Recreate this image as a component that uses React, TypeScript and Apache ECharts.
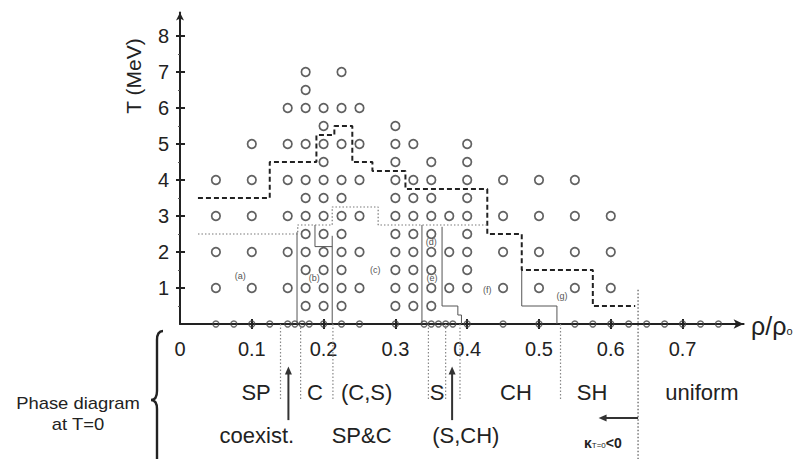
import React, { useEffect, useRef } from "react";
import * as echarts from "echarts";

// ---------- data ----------
const circleColumns = [0.05, 0.1, 0.15, 0.175, 0.2, 0.225, 0.25, 0.3, 0.325, 0.35, 0.375, 0.4, 0.45, 0.5, 0.55, 0.6];
const circleTemps = [
  [1, 2, 3, 4],
  [1, 2, 3, 4, 5],
  [1, 2, 3, 4, 5, 6],
  [0.5, 1, 1.5, 2, 2.5, 3, 3.5, 4, 5, 6, 6.5, 7],
  [0.5, 1, 1.5, 2, 2.5, 3, 3.5, 4, 4.5, 5, 5.5, 6],
  [0.5, 1, 1.5, 2, 2.5, 3, 3.5, 4, 5, 6, 7],
  [1, 2, 3, 4, 5, 6],
  [0.5, 1, 1.5, 2, 2.5, 3, 3.5, 4, 4.5, 5, 5.5],
  [0.5, 1, 1.5, 2, 2.5, 3, 3.5, 4, 5],
  [0.5, 1, 1.5, 2, 2.5, 3, 3.5, 4, 4.5],
  [1, 2, 3],
  [1, 1.5, 2, 2.5, 3, 3.5, 4, 4.5, 5],
  [1, 2, 3, 4],
  [1, 2, 3, 4],
  [1, 2, 3, 4],
  [1, 2, 3],
];
const zeroTempRho = [0.05, 0.075, 0.1, 0.125, 0.15, 0.16, 0.17, 0.18, 0.2, 0.225, 0.25, 0.3, 0.34, 0.35, 0.36, 0.37, 0.38, 0.4, 0.45, 0.5, 0.55, 0.575, 0.6, 0.625, 0.65, 0.675, 0.7, 0.725, 0.75];

const upperRho = [0.025, 0.125, 0.125, 0.19, 0.19, 0.215, 0.215, 0.24, 0.24, 0.268, 0.268, 0.314, 0.314, 0.428, 0.428, 0.476, 0.476, 0.575, 0.575, 0.634];
const upperT = [3.5, 3.5, 4.5, 4.5, 5.25, 5.25, 5.5, 5.5, 4.5, 4.5, 4.25, 4.25, 3.75, 3.75, 2.5, 2.5, 1.5, 1.5, 0.5, 0.5];

const lowerRho = [0.025, 0.164, 0.164, 0.212, 0.212, 0.276, 0.276, 0.428];
const lowerT = [2.5, 2.5, 2.75, 2.75, 3.25, 3.25, 2.75, 2.75];

const boundaryRho = [
  [0.163, 0.163],
  [0.212, 0.212],
  [0.188, 0.188, 0.212],
  [0.337, 0.337],
  [0.365, 0.365, 0.387, 0.387, 0.392, 0.392],
  [0.476, 0.476, 0.525, 0.525],
];
const boundaryT = [
  [2.55, 0],
  [2.45, 0],
  [2.75, 2.15, 2.15],
  [2.75, 0],
  [2.7, 0.5, 0.5, 0.25, 0.25, 0],
  [1.5, 0.5, 0.5, 0],
];

const phaseLineRho = [0.14, 0.168, 0.213, 0.346, 0.37, 0.39, 0.53];
const kappaLineRho = [0.638];

const phaseNames = ["SP", "C", "(C,S)", "S", "CH", "SH", "uniform"];
const phaseNameRho = [0.106, 0.188, 0.26, 0.358, 0.468, 0.574, 0.727];
const mixedNames = ["coexist.", "SP&C", "(S,CH)"];
const mixedNameRho = [0.107, 0.253, 0.398];
const arrowRho = [0.151, 0.379];

const regionNames = ["(a)", "(b)", "(c)", "(d)", "(e)", "(f)", "(g)"];
const regionRho = [0.084, 0.187, 0.272, 0.35, 0.351, 0.428, 0.532];
const regionT = [1.33, 1.28, 1.5, 2.28, 1.28, 0.94, 0.78];

const xTickVals = [0, 0.1, 0.2, 0.3, 0.4, 0.5, 0.6, 0.7];
const xMajorTicks = [0.1, 0.2, 0.3, 0.4, 0.5, 0.6, 0.7];
const yTickVals = [1, 2, 3, 4, 5, 6, 7, 8];
const yMinorTicks = [0.5, 1.5, 2.5, 3.5, 4.5, 5.5, 6.5, 7.5];

const X_MAX = 0.785;
const Y_MAX = 8.65;
const FONT = "Liberation Sans";
const INK = "#222";

const BRACE_D = "M12 0 Q6 0 6 9 L6 60 Q6 69 0 69 Q6 69 6 78 L6 128 Q6 137 12 137";

const circlePoints: number[][] = [];
circleColumns.forEach((r, i) => circleTemps[i].forEach((t) => circlePoints.push([r, t])));

function makeOption(): any {
  const hiddenAxis = {
    type: "value",
    min: 0,
    axisLine: { show: false },
    axisLabel: { show: false },
    splitLine: { show: false },
  };
  const series: any[] = [
    {
      type: "scatter",
      data: circlePoints,
      symbol: "circle",
      symbolSize: 8.5,
      itemStyle: { color: "rgba(0,0,0,0)", borderColor: "#3a3a3a", borderWidth: 1.7 },
      z: 5,
    },
    {
      type: "scatter",
      data: zeroTempRho.map((r) => [r, 0]),
      symbol: "circle",
      symbolSize: 6,
      clip: false,
      itemStyle: { color: "rgba(0,0,0,0)", borderColor: "#444", borderWidth: 1.3 },
      z: 5,
    },
    {
      type: "line",
      data: upperRho.map((r, i) => [r, upperT[i]]),
      showSymbol: false,
      lineStyle: { color: "#222", width: 2, type: [5, 3] },
      z: 4,
    },
    {
      type: "line",
      data: lowerRho.map((r, i) => [r, lowerT[i]]),
      showSymbol: false,
      lineStyle: { color: "#777", width: 1.2, type: [1.5, 2] },
      z: 4,
    },
  ];
  boundaryRho.forEach((rs, k) => {
    series.push({
      type: "line",
      data: rs.map((r, i) => [r, boundaryT[k][i]]),
      showSymbol: false,
      lineStyle: { color: "#555", width: 1 },
      z: 3,
    });
  });
  phaseLineRho.forEach((r) => {
    series.push({
      type: "line",
      data: [[r, 0], [r, -2.1]],
      showSymbol: false,
      clip: false,
      lineStyle: { color: "#888", width: 1.2, type: [1.5, 2] },
      z: 3,
    });
  });
  kappaLineRho.forEach((r) => {
    series.push({
      type: "line",
      data: [[r, 0.95], [r, -3.9]],
      showSymbol: false,
      clip: false,
      lineStyle: { color: "#555", width: 1.2, type: [1.5, 2] },
      z: 3,
    });
  });

  return {
    animation: false,
    backgroundColor: "#fff",
    grid: { left: 180, top: 12.6, width: 563.6, height: 311.4, containLabel: false },
    xAxis: [
      {
        type: "value",
        min: 0,
        max: X_MAX,
        position: "bottom",
        axisLine: {
          show: true,
          onZero: false,
          symbol: ["none", "arrow"],
          symbolSize: [7, 10],
          lineStyle: { color: INK, width: 2 },
        },
        axisTick: { show: true, customValues: xMajorTicks, length: 5, lineStyle: { color: INK, width: 2 } },
        axisLabel: {
          customValues: xTickVals,
          formatter: (v: number) => (v === 0 ? "0" : v.toFixed(1)),
          margin: 15,
          fontFamily: FONT,
          fontSize: 20,
          color: INK,
        },
        splitLine: { show: false },
      },
      {
        ...hiddenAxis,
        max: X_MAX,
        position: "bottom",
        axisTick: { show: true, inside: true, customValues: xMajorTicks, length: 5, lineStyle: { color: INK, width: 2 } },
      },
    ],
    yAxis: [
      {
        type: "value",
        min: 0,
        max: Y_MAX,
        position: "left",
        axisLine: {
          show: true,
          onZero: false,
          symbol: ["none", "arrow"],
          symbolSize: [6, 8],
          lineStyle: { color: INK, width: 2 },
        },
        axisTick: { show: true, customValues: yTickVals, length: 4, lineStyle: { color: INK, width: 2 } },
        axisLabel: {
          customValues: yTickVals,
          margin: 11,
          fontFamily: FONT,
          fontSize: 20,
          color: INK,
        },
        splitLine: { show: false },
      },
      {
        ...hiddenAxis,
        max: Y_MAX,
        position: "left",
        axisTick: { show: true, inside: true, customValues: yTickVals, length: 5, lineStyle: { color: INK, width: 2 } },
      },
      {
        ...hiddenAxis,
        max: Y_MAX,
        position: "left",
        axisTick: { show: true, customValues: yMinorTicks, length: 2, lineStyle: { color: "#555", width: 1 } },
      },
    ],
    series,
  };
}

export default function App() {
  const ref = useRef<HTMLDivElement>(null);
  useEffect(() => {
    const el = ref.current;
    if (!el) return;
    echarts.graphic.registerShape("brace", (echarts.graphic as any).extendPath(BRACE_D, {}));
    const chart = echarts.init(el, null, { renderer: "svg" });
    chart.setOption(makeOption());
    const px = (r: number, t: number) => chart.convertToPixel({ gridIndex: 0 }, [r, t]) as number[];

    const row1T = -1.89;
    const row2T = -3.1;
    const elements: any[] = [];

    phaseNames.forEach((name, i) => {
      const p = px(phaseNameRho[i], row1T);
      elements.push({
        type: "text",
        x: p[0],
        y: p[1],
        style: { text: name, fill: INK, font: `22px "${FONT}"`, align: "center", verticalAlign: "middle" },
      });
    });
    mixedNames.forEach((name, i) => {
      const p = px(mixedNameRho[i], row2T);
      elements.push({
        type: "text",
        x: p[0],
        y: p[1],
        style: { text: name, fill: INK, font: `22px "${FONT}"`, align: "center", verticalAlign: "middle" },
      });
    });
    // kappa label
    const kp = px(0.589, -3.3);
    elements.push({
      type: "text",
      x: kp[0],
      y: kp[1],
      style: {
        text: "{k|κ}{s|T=0}{k|<0}",
        align: "center",
        verticalAlign: "middle",
        rich: {
          k: { fontFamily: FONT, fontSize: 14, fontWeight: "bold", fill: INK },
          s: { fontFamily: FONT, fontSize: 8, fill: INK, padding: [6, 0, 0, 0] },
        },
      },
    });
    // up arrows
    arrowRho.forEach((r) => {
      const tail = px(r, -2.67);
      const tip = px(r, -1.18);
      elements.push({
        type: "line",
        shape: { x1: tail[0], y1: tail[1], x2: tip[0], y2: tip[1] + 6 },
        style: { stroke: "#333", lineWidth: 2 },
      });
      elements.push({
        type: "polygon",
        shape: { points: [[tip[0], tip[1]], [tip[0] - 3.5, tip[1] + 8], [tip[0] + 3.5, tip[1] + 8]] },
        style: { fill: "#333" },
      });
    });
    // left arrow (kappa)
    const la = px(0.638, -2.61);
    const lt = px(0.583, -2.61);
    elements.push({
      type: "line",
      shape: { x1: la[0], y1: la[1], x2: lt[0] + 6, y2: lt[1] },
      style: { stroke: "#333", lineWidth: 2 },
    });
    elements.push({
      type: "polygon",
      shape: { points: [[lt[0], lt[1]], [lt[0] + 8, lt[1] - 3.5], [lt[0] + 8, lt[1] + 3.5]] },
      style: { fill: "#333" },
    });
    // region labels
    regionNames.forEach((name, i) => {
      const p = px(regionRho[i], regionT[i]);
      elements.push({
        type: "text",
        x: p[0],
        y: p[1],
        z: 10,
        style: { text: name, fill: "#555", font: `9px "${FONT}"`, align: "center", verticalAlign: "middle" },
      });
    });
    // brace + side label
    elements.push({
      type: "brace",
      x: 151,
      y: 331,
      style: { fill: "none", stroke: INK, lineWidth: 2.4 },
    });
    elements.push({
      type: "text",
      x: 78,
      y: 414,
      scaleX: 1.15,
      style: {
        text: "Phase diagram\nat T=0",
        fill: INK,
        font: `16px "${FONT}"`,
        align: "center",
        verticalAlign: "middle",
        lineHeight: 21,
      },
    });
    // axis titles
    elements.push({
      type: "text",
      x: 133,
      y: 76,
      rotation: Math.PI / 2,
      style: { text: "T (MeV)", fill: INK, font: `21px "${FONT}"`, align: "center", verticalAlign: "middle" },
    });
    elements.push({
      type: "text",
      x: 751,
      y: 326,
      style: {
        text: "{a|ρ/ρ}{b|o}",
        verticalAlign: "middle",
        rich: {
          a: { fontFamily: FONT, fontSize: 25, fill: INK },
          b: { fontFamily: FONT, fontSize: 11, fill: INK, padding: [10, 0, 0, 0] },
        },
      },
    });

    chart.setOption({ graphic: elements });
    return () => chart.dispose();
  }, []);
  return (
    <div
      ref={ref}
      style={{ position: "fixed", left: 0, top: 0, width: 797, height: 459, background: "#fff" }}
    />
  );
}
